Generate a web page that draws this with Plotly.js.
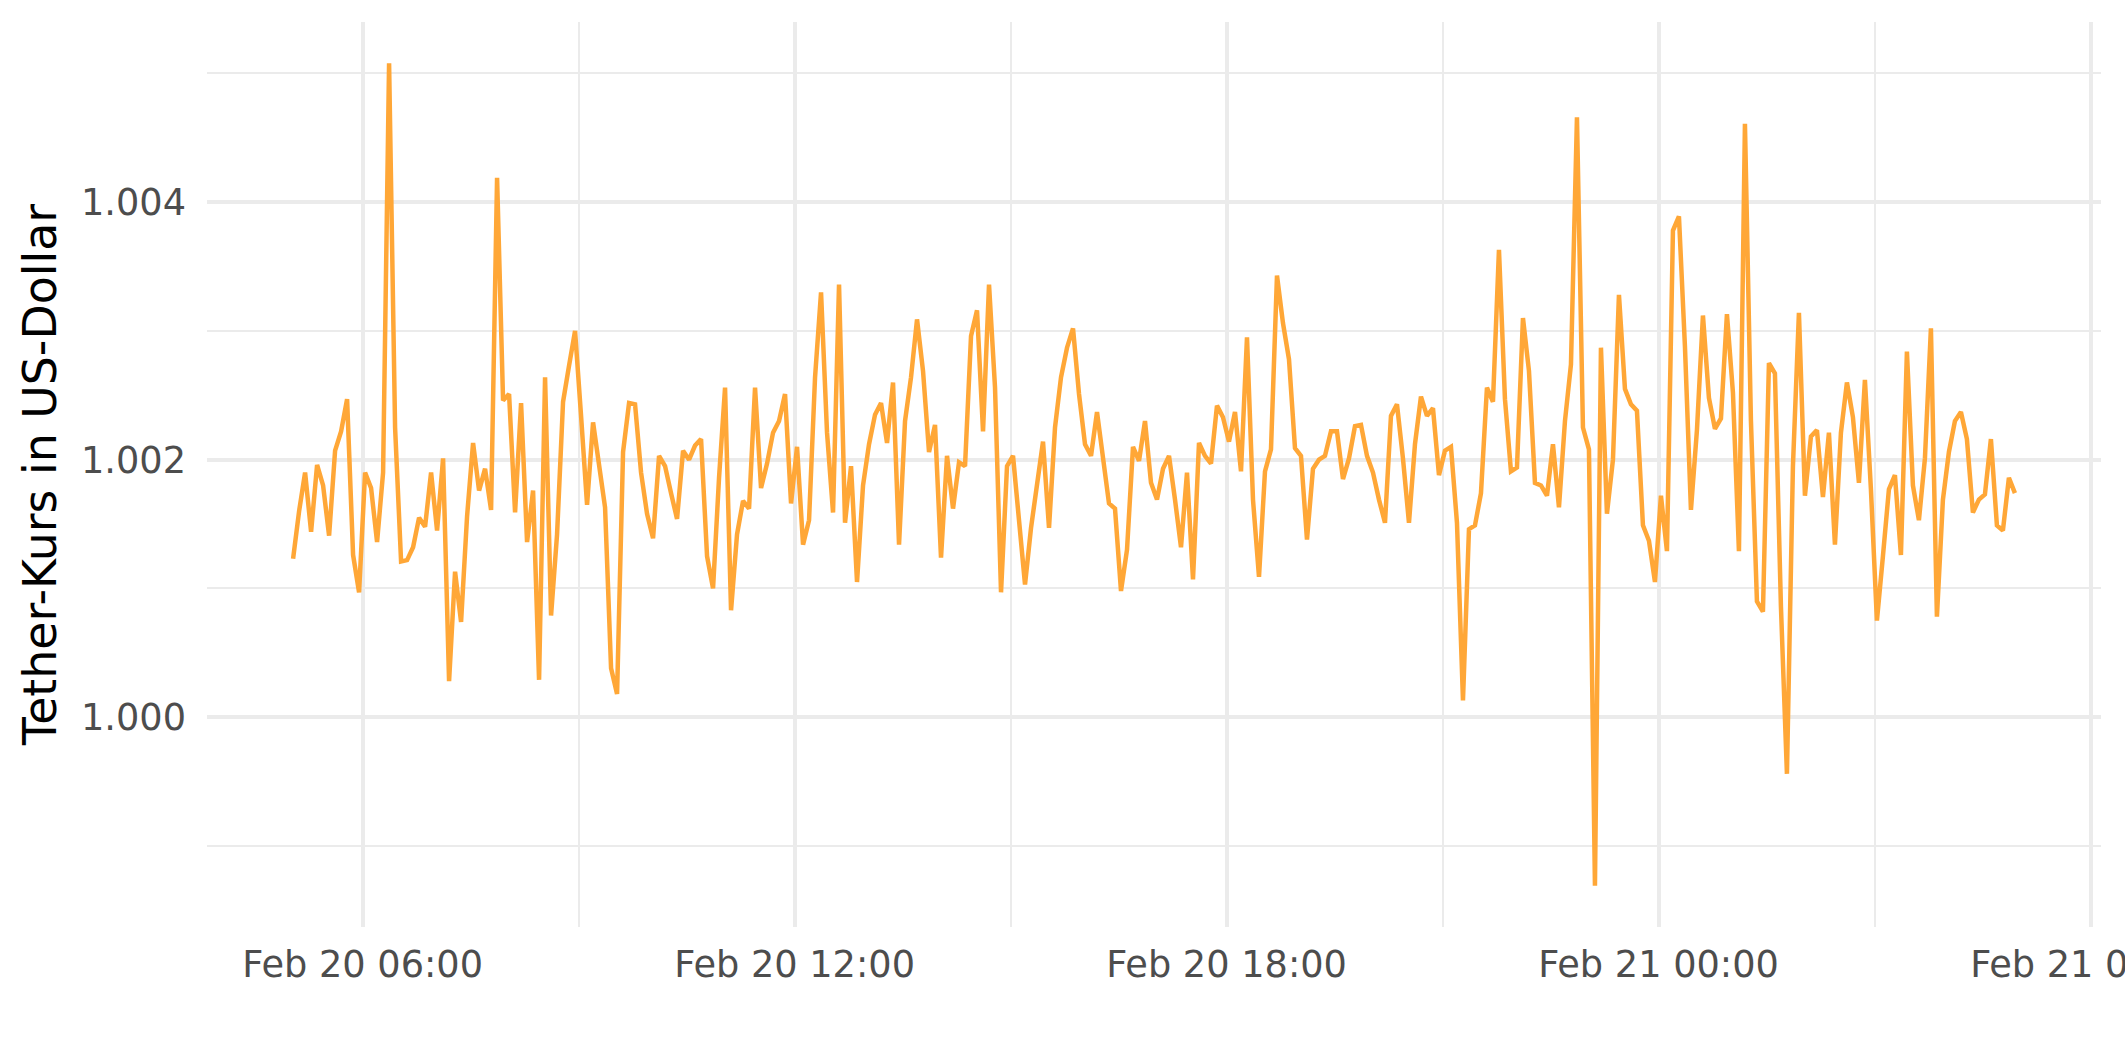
<!DOCTYPE html>
<html>
<head>
<meta charset="utf-8">
<script src="https://cdn.plot.ly/plotly-3.0.1.min.js"></script>
<style>
  html, body { margin: 0; padding: 0; background: #ffffff; }
  #chart { width: 2125px; height: 1062px; }
</style>
</head>
<body>
<div id="chart"></div>
<script>
// Sampling grid: one reading every 5 minutes, starting Feb 20 05:02
const startTime = "2024-02-20T05:02:00Z";
const stepMinutes = 5;

// Tether price in US-Dollar
const usdtPrice = [
  1.00123, 1.00160, 1.00190, 1.00144, 1.00196, 1.00180, 1.00141, 1.00207, 1.00222, 1.00247,
  1.00126, 1.00097, 1.00190, 1.00178, 1.00136, 1.00190, 1.00508, 1.00225, 1.00121, 1.00122,
  1.00132, 1.00155, 1.00148, 1.00190, 1.00145, 1.00201, 1.00028, 1.00113, 1.00074, 1.00156,
  1.00213, 1.00176, 1.00193, 1.00161, 1.00419, 1.00246, 1.00251, 1.00159, 1.00244, 1.00136,
  1.00176, 1.00029, 1.00264, 1.00079, 1.00142, 1.00245, 1.00273, 1.00300, 1.00234, 1.00165,
  1.00229, 1.00196, 1.00163, 1.00038, 1.00018, 1.00206, 1.00244, 1.00243, 1.00190, 1.00158,
  1.00139, 1.00203, 1.00195, 1.00174, 1.00154, 1.00207, 1.00200, 1.00211, 1.00216, 1.00125,
  1.00100, 1.00186, 1.00256, 1.00083, 1.00142, 1.00168, 1.00162, 1.00256, 1.00178, 1.00197,
  1.00221, 1.00230, 1.00251, 1.00166, 1.00210, 1.00134, 1.00153, 1.00264, 1.00330, 1.00221,
  1.00159, 1.00336, 1.00151, 1.00195, 1.00105, 1.00180, 1.00212, 1.00235, 1.00244, 1.00213,
  1.00260, 1.00134, 1.00230, 1.00264, 1.00309, 1.00269, 1.00206, 1.00227, 1.00124, 1.00203,
  1.00162, 1.00198, 1.00195, 1.00296, 1.00316, 1.00222, 1.00336, 1.00256, 1.00097, 1.00195,
  1.00203, 1.00153, 1.00103, 1.00147, 1.00182, 1.00214, 1.00147, 1.00225, 1.00264, 1.00287,
  1.00302, 1.00251, 1.00212, 1.00203, 1.00237, 1.00203, 1.00166, 1.00162, 1.00098, 1.00130,
  1.00210, 1.00199, 1.00230, 1.00182, 1.00169, 1.00193, 1.00203, 1.00169, 1.00132, 1.00190,
  1.00107, 1.00213, 1.00203, 1.00197, 1.00242, 1.00233, 1.00214, 1.00237, 1.00191, 1.00295,
  1.00169, 1.00109, 1.00191, 1.00208, 1.00343, 1.00306, 1.00278, 1.00209, 1.00203, 1.00138,
  1.00193, 1.00200, 1.00203, 1.00222, 1.00222, 1.00185, 1.00201, 1.00226, 1.00227, 1.00203,
  1.00190, 1.00169, 1.00151, 1.00234, 1.00243, 1.00201, 1.00151, 1.00212, 1.00249, 1.00234,
  1.00240, 1.00188, 1.00207, 1.00210, 1.00151, 1.00013, 1.00146, 1.00149, 1.00174, 1.00256,
  1.00245, 1.00363, 1.00247, 1.00191, 1.00194, 1.00310, 1.00269, 1.00182, 1.00180, 1.00172,
  1.00212, 1.00163, 1.00230, 1.00274, 1.00466, 1.00225, 1.00208, 0.99869, 1.00287, 1.00158,
  1.00200, 1.00328, 1.00255, 1.00243, 1.00238, 1.00149, 1.00137, 1.00105, 1.00172, 1.00129,
  1.00378, 1.00389, 1.00288, 1.00161, 1.00223, 1.00312, 1.00248, 1.00224, 1.00232, 1.00313,
  1.00252, 1.00129, 1.00461, 1.00230, 1.00090, 1.00082, 1.00275, 1.00267, 1.00086, 0.99956,
  1.00195, 1.00314, 1.00172, 1.00218, 1.00223, 1.00171, 1.00221, 1.00134, 1.00221, 1.00260,
  1.00233, 1.00182, 1.00262, 1.00177, 1.00075, 1.00125, 1.00177, 1.00188, 1.00126, 1.00284,
  1.00180, 1.00153, 1.00201, 1.00302, 1.00078, 1.00169, 1.00206, 1.00230, 1.00237, 1.00216,
  1.00159, 1.00169, 1.00173, 1.00216, 1.00149, 1.00145, 1.00186, 1.00174
];

// Axis texts
const yTitle = "Tether-Kurs in US-Dollar";
const xTickFormat = "%b %d %H:%M";
const yTickFormat = ".3f";

// Timestamps of the readings
const startMs = Date.parse(startTime);
const times = usdtPrice.map((_, i) => {
  const d = new Date(startMs + i * stepMinutes * 60000);
  return d.toISOString().slice(0, 19).replace("T", " ");
});

const lineColor = "#FFA737";
const gridColor = "#EBEBEB";
const font = "DejaVu Sans, Liberation Sans, sans-serif";

const trace = {
  type: "scatter",
  mode: "lines",
  x: times,
  y: usdtPrice,
  line: { color: lineColor, width: 4.5 },
  hoverinfo: "x+y"
};

const layout = {
  width: 2125,
  height: 1062,
  margin: { l: 207, r: 24, t: 22, b: 135 },
  paper_bgcolor: "#ffffff",
  plot_bgcolor: "#ffffff",
  showlegend: false,
  font: { family: font, color: "#4D4D4D" },
  xaxis: {
    type: "date",
    range: ["2024-02-20 03:50:15", "2024-02-21 06:08:45"],
    tick0: "2024-02-20 00:00",
    dtick: 6 * 3600000,
    tickformat: xTickFormat,
    showgrid: true,
    gridcolor: gridColor,
    gridwidth: 4,
    minor: {
      tick0: "2024-02-20 00:00",
      dtick: 3 * 3600000,
      showgrid: true,
      gridcolor: gridColor,
      gridwidth: 2
    },
    zeroline: false,
    showline: false,
    ticks: "",
    ticklabeloverflow: "allow",
    ticklabelstandoff: 12,
    tickfont: { family: font, size: 36.7, color: "#4D4D4D" },
    fixedrange: true
  },
  yaxis: {
    range: [0.99837, 1.0054],
    tick0: 1.0,
    dtick: 0.002,
    tickformat: yTickFormat,
    showgrid: true,
    gridcolor: gridColor,
    gridwidth: 4,
    minor: {
      tick0: 1.0,
      dtick: 0.001,
      showgrid: true,
      gridcolor: gridColor,
      gridwidth: 2
    },
    zeroline: false,
    showline: false,
    ticks: "",
    ticklabelstandoff: 20,
    tickfont: { family: font, size: 36.7, color: "#4D4D4D" },
    title: {
      text: yTitle,
      font: { family: font, size: 45.8, color: "#000000" },
      standoff: 9
    },
    fixedrange: true
  }
};

Plotly.newPlot("chart", [trace], layout, { displayModeBar: false, staticPlot: true });
</script>
</body>
</html>
